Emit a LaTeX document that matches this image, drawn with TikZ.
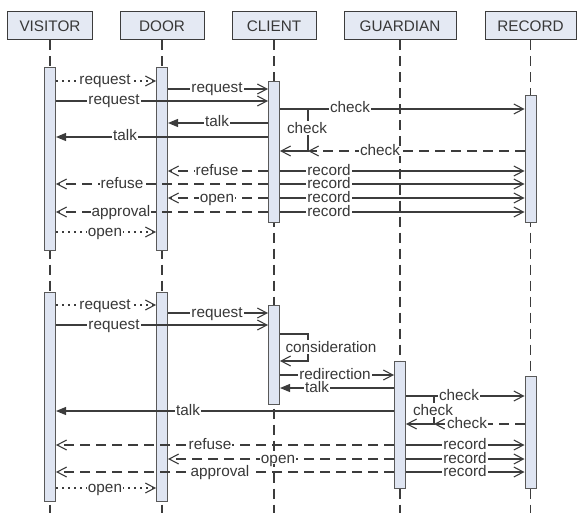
\documentclass[tikz,border=0pt]{standalone}
\usepackage{fontspec}
\setmainfont{Liberation Sans}
\usetikzlibrary{arrows.meta}
\definecolor{ln}{HTML}{3C3C3C}
\definecolor{boxfill}{HTML}{E4E9F3}
\definecolor{barfill}{HTML}{DFE5F2}
\definecolor{txt}{HTML}{383838}
\begin{document}
\begin{tikzpicture}[x=1pt,y=-1pt,
 font=\fontsize{15.3}{17}\selectfont,
 head/.style={draw=ln, fill=boxfill, line width=1pt, minimum height=28pt, inner sep=0pt, text=txt},
 bar/.style={draw=ln!85, fill=barfill, line width=1pt, minimum width=11pt, inner sep=0pt},
 life/.style={draw=ln, line width=1.1pt, dash pattern=on 10pt off 6pt},
 msg/.style={draw=ln, line width=1.1pt},
 ret/.style={msg, dash pattern=on 10pt off 6pt},
 dot/.style={msg, dash pattern=on 1.5pt off 4.5pt},
 oa/.style={-{Straight Barb[length=9.5pt,width=10pt]}},
 fa/.style={-{Triangle[length=10pt,width=8pt]}},
 lab/.style={fill=white, inner xsep=1pt, inner ysep=1pt, text height=8pt, text depth=0pt, text=txt},
 labv/.style={fill=white, inner sep=1pt, text=txt},
]
\useasboundingbox (0,0) rectangle (577,513);
% headers
\node[head, minimum width=85pt] (hv) at (50,26) {VISITOR};
\node[head, minimum width=84pt] (hd) at (162,26) {DOOR};
\node[head, minimum width=84pt] (hc) at (274,26) {CLIENT};
\node[head, minimum width=112pt] (hg) at (400,26) {GUARDIAN};
\node[head, minimum width=91pt] (hr) at (530.5,26) {RECORD};
% lifelines
\foreach \h in {hv,hd,hc,hg,hr}{\draw[life] (\h.south) -- (\h.south |- 0,513);}
% activation bars
\node[bar, minimum height=182pt] (v1) at (50,159) {};
\node[bar, minimum height=182pt] (d1) at (162,159) {};
\node[bar, minimum height=140pt] (c1) at (274,152) {};
\node[bar, minimum height=126pt] (r1) at (530.5,159) {};
\node[bar, minimum height=209pt] (v2) at (50,396.5) {};
\node[bar, minimum height=209pt] (d2) at (162,396.5) {};
\node[bar, minimum height=99pt] (c2) at (274,354.5) {};
\node[bar, minimum height=127pt] (g2) at (400,424.5) {};
\node[bar, minimum height=112pt] (r2) at (530.5,432) {};
% ---------- section 1 ----------
\draw[dot,oa] (v1.east|-0,81) -- (d1.west|-0,81);
\node[lab] (l1) at (105,81) {request};
\draw[msg,oa] (d1.east|-0,89) -- (c1.west|-0,89);
\node[lab] (l2) at (217,89) {request};
\draw[msg,oa] (v1.east|-0,101) -- (c1.west|-0,101);
\node[lab] (l3) at (114,101) {request};
\draw[msg,oa] (c1.east|-0,109) -- (r1.west|-0,109);
\node[lab] (l4) at (350,109) {check};
\coordinate (ck1a) at (308,109);
\coordinate (ck1b) at (308,151);
\draw[msg,oa] (ck1a) -- (ck1b) -- (c1.east|-ck1b);
\node[labv] (l5) at (307,128) {check};
\draw[ret,oa] (r1.west|-ck1b) -- (ck1b);
\node[lab] (l6) at (380,151) {check};
\draw[msg,fa] (c1.west|-0,123) -- (d1.east|-0,123);
\node[lab] (l7) at (217,123) {talk};
\draw[msg,fa] (c1.west|-0,137) -- (v1.east|-0,137);
\node[lab] (l8) at (125,137) {talk};
\draw[ret,oa] (c1.west|-0,171) -- (d1.east|-0,171);
\node[lab] (l9) at (217,171) {refuse};
\draw[ret,oa] (c1.west|-0,184) -- (v1.east|-0,184);
\node[lab] (l10) at (122,184) {refuse};
\draw[ret,oa] (c1.west|-0,198) -- (d1.east|-0,198);
\node[lab] (l11) at (217,198) {open};
\draw[ret,oa] (c1.west|-0,212) -- (v1.east|-0,212);
\node[lab] (l12) at (121,212) {approval};
\foreach \y in {171,184,198,212}{
  \draw[msg,oa] (c1.east|-0,\y) -- (r1.west|-0,\y);
  \node[lab] at (329,\y) {record};
}
\draw[dot,oa] (v1.east|-0,232) -- (d1.west|-0,232);
\node[lab] (l13) at (105,232) {open};
% ---------- section 2 ----------
\draw[dot,oa] (v2.east|-0,305) -- (d2.west|-0,305);
\node[lab] (m1) at (105,305) {request};
\draw[msg,oa] (d2.east|-0,313) -- (c2.west|-0,313);
\node[lab] (m2) at (217,313) {request};
\draw[msg,oa] (v2.east|-0,325) -- (c2.west|-0,325);
\node[lab] (m3) at (114,325) {request};
\draw[msg,oa] (c2.east|-0,334) -- (308,334) -- (308,361) -- (c2.east|-0,361);
\node[labv] (m4) at (331,347) {consideration};
\draw[msg,oa] (c2.east|-0,375) -- (g2.west|-0,375);
\node[lab] (m5) at (335,375) {redirection};
\draw[msg,fa] (g2.west|-0,388) -- (c2.east|-0,388);
\node[lab] (m6) at (317,388) {talk};
\draw[msg,fa] (g2.west|-0,411) -- (v2.east|-0,411);
\node[lab] (m7) at (188,411) {talk};
\draw[msg,oa] (g2.east|-0,396) -- (r2.west|-0,396);
\node[lab] (m8) at (459,396) {check};
\coordinate (ck2a) at (434,396);
\coordinate (ck2b) at (434,424);
\draw[msg,oa] (ck2a) -- (ck2b) -- (g2.east|-ck2b);
\node[labv] (m9) at (433,410) {check};
\draw[ret,oa] (r2.west|-ck2b) -- (ck2b);
\node[lab] (m10) at (467,424) {check};
\draw[ret,oa] (g2.west|-0,445) -- (v2.east|-0,445);
\node[lab] (m11) at (210,445) {refuse};
\draw[ret,oa] (g2.west|-0,459) -- (d2.east|-0,459);
\node[lab] (m12) at (278,459) {open};
\draw[ret,oa] (g2.west|-0,472) -- (v2.east|-0,472);
\node[lab] (m13) at (220,472) {approval};
\foreach \y in {445,459,472}{
  \draw[msg,oa] (g2.east|-0,\y) -- (r2.west|-0,\y);
  \node[lab] at (465,\y) {record};
}
\draw[dot,oa] (v2.east|-0,488) -- (d2.west|-0,488);
\node[lab] (m14) at (105,488) {open};
\end{tikzpicture}
\end{document}
